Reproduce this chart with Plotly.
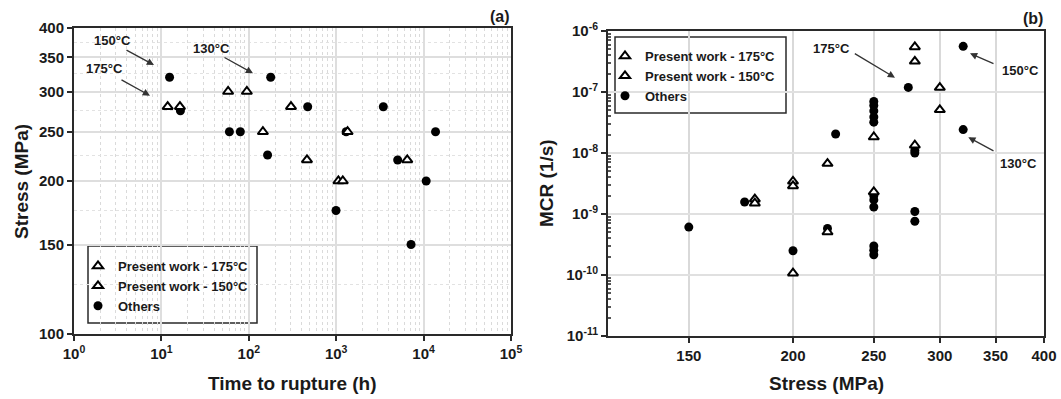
import plotly.graph_objects as go
import numpy as np

W, H = 1061, 399

# ---------------- Panel (a): Stress vs time to rupture ----------------
a_t175 = [11.8, 16.3, 58, 95, 145, 304, 463]
a_s175 = [280, 280, 300, 300, 250, 280, 220]
a_t150 = [1060, 1190, 1350, 6500]
a_s150 = [200, 200, 250, 220]
a_t_oth = [12.4, 16.5, 60, 80, 164, 178, 472, 3460, 1300, 13700, 5050, 10700, 995, 7180]
a_s_oth = [320, 275, 250, 250, 225, 320, 280, 280, 250, 250, 220, 200, 175, 150]

a_xticks = [1, 10, 100, 1000, 10000, 100000]
a_xtext = ["10<sup>0</sup>", "10<sup>1</sup>", "10<sup>2</sup>", "10<sup>3</sup>", "10<sup>4</sup>", "10<sup>5</sup>"]
a_yticks = [100, 150, 200, 250, 300, 350, 400]

# ---------------- Panel (b): MCR vs stress ----------------
b_s175 = [300, 300, 280, 280, 250, 220, 200, 180]
b_m175 = [1.18e-7, 5.1e-8, 5.47e-7, 3.19e-7, 1.83e-8, 6.7e-9, 3.44e-9, 1.75e-9]
b_s150 = [280, 250, 220, 200, 200, 180]
b_m150 = [1.34e-8, 2.3e-9, 5.07e-10, 1.07e-10, 2.88e-9, 1.5e-9]
b_s_oth = [150, 175, 200, 220, 225, 250, 250, 250, 250, 250, 250, 250, 250, 250, 250, 250,
           275, 280, 280, 280, 280, 320, 320]
b_m_oth = [6.1e-10, 1.57e-9, 2.5e-10, 5.8e-10, 2.05e-8, 7.0e-8, 6.0e-8, 4.9e-8, 3.9e-8, 3.2e-8,
           2.0e-9, 1.7e-9, 1.3e-9, 3.0e-10, 2.55e-10, 2.15e-10,
           1.19e-7, 1.1e-8, 1.0e-8, 1.1e-9, 7.6e-10, 5.6e-7, 2.42e-8]

b_xticks = [150, 200, 250, 300, 350, 400]
b_yticks = [1e-11, 1e-10, 1e-9, 1e-8, 1e-7, 1e-6]
b_ytext = ["10<sup>-11</sup>", "10<sup>-10</sup>", "10<sup>-9</sup>", "10<sup>-8</sup>", "10<sup>-7</sup>", "10<sup>-6</sup>"]

legend_names = ["Present work - 175°C", "Present work - 150°C", "Others"]

FONT = "Liberation Sans, Arial, sans-serif"
TXT = "#1a1a1a"

circ = dict(symbol="circle", size=9, color="black", line=dict(width=0))
tri = dict(symbol="triangle-up", size=9, color="white", line=dict(width=2, color="black"))

fig = go.Figure()
# panel a
fig.add_trace(go.Scatter(x=a_t_oth, y=a_s_oth, mode="markers", marker=circ, name=legend_names[2],
                         xaxis="x", yaxis="y", legend="legend", legendrank=3))
fig.add_trace(go.Scatter(x=a_t175, y=a_s175, mode="markers", marker=tri, name=legend_names[0],
                         xaxis="x", yaxis="y", legend="legend", legendrank=1))
fig.add_trace(go.Scatter(x=a_t150, y=a_s150, mode="markers", marker=tri, name=legend_names[1],
                         xaxis="x", yaxis="y", legend="legend", legendrank=2))
# panel b
fig.add_trace(go.Scatter(x=b_s_oth, y=b_m_oth, mode="markers", marker=circ, name=legend_names[2],
                         xaxis="x2", yaxis="y2", legend="legend2", legendrank=3))
fig.add_trace(go.Scatter(x=b_s175, y=b_m175, mode="markers", marker=tri, name=legend_names[0],
                         xaxis="x2", yaxis="y2", legend="legend2", legendrank=1))
fig.add_trace(go.Scatter(x=b_s150, y=b_m150, mode="markers", marker=tri, name=legend_names[1],
                         xaxis="x2", yaxis="y2", legend="legend2", legendrank=2))

def px(x):
    return x / W

def py(y):
    return 1 - y / H

tickfont = dict(family=FONT, size=15, color=TXT, weight="bold")
axis_common = dict(showline=True, linecolor="#2a2a2a", linewidth=2, mirror=True,
                   ticks="outside", ticklen=5, tickwidth=1.5, tickcolor="#2a2a2a",
                   tickfont=tickfont, zeroline=False, automargin=False)

a_xminor = [m * 10 ** d for d in range(0, 5) for m in range(2, 10)]
a_yminor = [125, 175, 225, 275, 325, 375]
b_yminor = [m * 10.0 ** d for d in range(-11, -6) for m in range(2, 10)]

fig.update_layout(
    width=W, height=H,
    margin=dict(l=0, r=0, t=0, b=0, autoexpand=False),
    paper_bgcolor="white", plot_bgcolor="white",
    font=dict(family=FONT, color=TXT),
    xaxis=dict(type="log", range=[0, 5], domain=[px(74), px(511)], anchor="y",
               tickmode="array", tickvals=a_xticks, ticktext=a_xtext,
               showgrid=True, gridcolor="#dedede", gridwidth=1.5,
               minor=dict(tickvals=a_xminor, showgrid=True, gridcolor="#dadada",
                          griddash="dot", gridwidth=1, ticks=""),
               **axis_common),
    yaxis=dict(type="log", range=[2, np.log10(400)], domain=[py(334), py(28)], anchor="x",
               tickmode="array", tickvals=a_yticks,
               showgrid=True, gridcolor="#dedede", gridwidth=1.5,
               minor=dict(tickvals=a_yminor, showgrid=True, gridcolor="#e2e2e2",
                          griddash="dot", gridwidth=1, ticks=""),
               **axis_common),
    xaxis2=dict(type="log", range=[np.log10(120), np.log10(400)], domain=[px(608), px(1044)], anchor="y2",
                tickmode="array", tickvals=b_xticks,
                showgrid=True, gridcolor="#d9d9d9", gridwidth=2,
                **axis_common),
    yaxis2=dict(type="log", range=[-11, -6], domain=[py(336), py(31)], anchor="x2",
                tickmode="array", tickvals=b_yticks, ticktext=b_ytext,
                showgrid=True, gridcolor="#e0e0e0", gridwidth=2,
                minor=dict(tickvals=b_yminor, ticks="inside", ticklen=3, tickcolor="#555", showgrid=False),
                **axis_common),
    legend=dict(x=px(78), y=py(251), xanchor="left", yanchor="top", bgcolor="rgba(0,0,0,0)",
                borderwidth=0, font=dict(family=FONT, size=13, color=TXT, weight="bold"),
                tracegroupgap=0, itemsizing="trace"),
    legend2=dict(x=px(605), y=py(41), xanchor="left", yanchor="top", bgcolor="rgba(0,0,0,0)",
                 borderwidth=0, font=dict(family=FONT, size=13, color=TXT, weight="bold"),
                 tracegroupgap=0, itemsizing="trace"),
    showlegend=True,
)

# legend boxes
fig.add_shape(type="rect", xref="paper", yref="paper", x0=px(88), x1=px(257), y0=py(323), y1=py(246),
              line=dict(color="#2a2a2a", width=1.5), fillcolor="white", layer="below")
fig.add_shape(type="rect", xref="paper", yref="paper", x0=px(615), x1=px(786), y0=py(113), y1=py(37),
              line=dict(color="#2a2a2a", width=1.5), fillcolor="white", layer="below")

def txt(t, x, y, size, angle=0):
    return dict(text=t, x=px(x), y=py(y), xref="paper", yref="paper", showarrow=False,
                xanchor="center", yanchor="middle", textangle=angle,
                font=dict(family=FONT, size=size, color=TXT, weight="bold"))

ann = []
# axis titles
ann.append(txt("Time to rupture (h)", 292, 383, 19))
ann.append(txt("Stress (MPa)", 21, 182, 19, -90))
ann.append(txt("Stress (MPa)", 826, 383, 19))
ann.append(txt("MCR (1/s)", 546, 183, 19, -90))
# panel labels
ann.append(txt("(a)", 500, 17, 16))
ann.append(txt("(b)", 1033, 18, 16))

# temperature labels
labels = [("150°C", 112, 41), ("175°C", 104, 68), ("130°C", 211, 48.5),
          ("175°C", 831, 48), ("150°C", 1020, 70.5), ("130°C", 1018, 163.5)]
for t, lx, ly in labels:
    ann.append(txt(t, lx, ly, 13))

# arrows: head (x, y), tail offset (ax, ay) in pixels
arrows = [(154, 65, -29, -15.7), (150, 95.7, -30, -16.7), (253, 73.3, -30, -16.6),
          (895, 77.7, -41.7, -25), (970, 53.3, 25, 11), (968.3, 137.3, 26.7, 14.4)]
for hx, hy, dx, dy in arrows:
    ann.append(dict(text="", x=px(hx), y=py(hy), xref="paper", yref="paper", showarrow=True,
                    ax=dx, ay=dy, arrowhead=2, arrowsize=1.1, arrowwidth=1.3, arrowcolor="#333",
                    standoff=0, startstandoff=0))

fig.update_layout(annotations=ann)

fig.write_html("out.html", config={"displayModeBar": False},
               post_script="document.body.style.margin='0';document.body.style.overflow='hidden';")
